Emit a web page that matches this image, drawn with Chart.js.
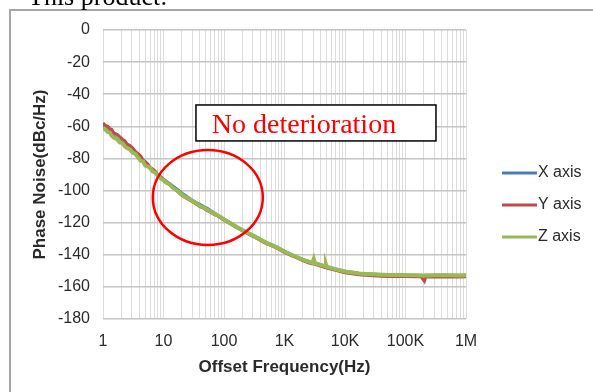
<!DOCTYPE html>
<html>
<head>
<meta charset="utf-8">
<script src="https://cdn.jsdelivr.net/npm/chart.js@4.4.1/dist/chart.umd.min.js"></script>
<style>
   html, body { margin: 0; padding: 0; background: #fff; }
   #wrap { width: 593px; height: 392px; }
</style>
</head>
<body>
<div id="wrap"><canvas id="phaseChart" width="593" height="392"></canvas></div>
<script>
/* -----------------------------------------------------------------------
   data
   ------------------------------------------------------------------------*/
const freqs = [
   1, 1.1, 1.2, 1.3, 1.4, 1.5, 1.7, 1.9, 2.1, 2.3,
   2.5, 2.8, 3.1, 3.4, 3.8, 4.2, 4.6, 5, 5.5, 6,
   6.6, 7.3, 8, 9, 10, 11, 12.5, 14, 16, 18,
   20, 23, 26, 30, 35, 40, 46, 53, 60, 70,
   80, 100, 130, 160, 200, 250, 320, 400, 500, 650,
   800, 1000, 1300, 1600, 2000, 2500, 2900, 3050, 3200, 3600,
   4200, 4700, 4850, 5000, 6000, 7500, 10000, 13000, 17000, 22000,
   30000, 40000, 55000, 75000, 100000, 140000, 180000, 205000, 215000, 230000,
   300000, 400000, 550000, 750000, 1000000
];
const xAxisNoise = [
   -59.5, -61, -62.5, -63.5, -65, -66, -67.5, -69, -70, -71.5,
   -72.5, -74, -75, -77, -78.5, -80, -81.5, -83, -84.5, -86,
   -87, -88.5, -90, -91.5, -93, -94, -95.5, -97, -98.5, -100,
   -101.5, -103, -104.5, -106, -107.5, -108.5, -110, -111, -112.5, -114,
   -115.5, -117.8, -120.3, -122.4, -124.4, -126.4, -128.4, -130.4, -132.4, -134.2,
   -135.9, -137.9, -139.9, -141.4, -142.9, -144.2, -144.9, -144.6, -145.2, -145.7,
   -146.5, -147.1, -147.2, -147.4, -148.2, -149.2, -150.3, -150.9, -151.5, -151.8,
   -152.1, -152.3, -152.5, -152.5, -152.6, -152.7, -152.8, -152.9, -152.7, -152.8,
   -152.7, -152.6, -152.7, -152.8, -152.7
];
const yAxisNoise = [
   -58, -59.5, -60, -61.5, -62, -64, -65, -66.5, -68, -69,
   -71, -72, -73.5, -75.5, -77, -78.5, -81, -82, -83.5, -85.5,
   -86.5, -88, -90, -91.5, -93, -94.5, -96, -97.5, -99.5, -101.5,
   -103, -104.5, -105.5, -107, -108.5, -110, -111, -112.5, -113.5, -115,
   -116, -118.5, -121, -123, -125, -127, -129, -131, -133, -134.8,
   -136.5, -138.5, -140.5, -142, -143.6, -145, -145.7, -145.5, -146, -146.5,
   -147.3, -148, -148.1, -148.3, -149.1, -150, -151.2, -151.8, -152.4, -152.8,
   -153.1, -153.3, -153.5, -153.4, -153.6, -153.7, -153.6, -156.5, -154, -153.8,
   -153.7, -153.8, -153.7, -153.8, -153.7
];
const zAxisNoise = [
   -61, -62, -63.5, -64, -66, -67, -68, -70, -70.5, -72.5,
   -73.5, -74.5, -76.5, -77, -79.5, -81.5, -82, -84.5, -85, -86,
   -88, -89, -90.5, -92.5, -93.5, -95, -96, -98, -99.5, -101,
   -102.5, -104, -105, -106.5, -108, -109.5, -110.5, -112, -113, -114.5,
   -115.5, -118, -120.5, -122.5, -124.5, -126.5, -128.5, -130.5, -132.5, -134.3,
   -136, -138, -140, -141.5, -143, -144.3, -145, -142.5, -145.3, -145.8,
   -146.6, -147.2, -146, -147.5, -148.3, -149.3, -150.4, -151, -151.6, -151.9,
   -152.2, -152.4, -152.6, -152.6, -152.7, -152.8, -152.9, -153, -152.8, -152.9,
   -152.8, -152.7, -152.8, -152.9, -152.8
];
const seriesNames = ["X axis", "Y axis", "Z axis"];
const seriesColors = ["#4a7ebb", "#be4b48", "#98b954"];
const xTickValues = [1, 10, 100, 1000, 10000, 100000, 1000000];
const xTickLabels = ["1", "10", "100", "1K", "10K", "100K", "1M"];
const yMin = -180, yMax = 0, yStep = 20;

// annotation anchors (in data units)
const note = {
   text: "No deterioration",
   boxFrom: [34.4, -46.7], boxTo: [319000, -69.1],
   textAt: [63, -64.3],
   ringAt: [54, -104.3], ringRx: 55, ringRy: 47.5
};

/* -----------------------------------------------------------------------
   grid lines at 1..9 of every decade
   ------------------------------------------------------------------------*/
const gridFreqs = [];
for (let d = 0; d < 6; d++) {
   for (let m = 1; m < 10; m++) gridFreqs.push(m * Math.pow(10, d));
}
gridFreqs.push(1000000);

const toPoints = function(vals) {
   return freqs.map(function(f, i) { return {x: f, y: vals[i]}; });
};

/* -----------------------------------------------------------------------
   plugin: frame, caption, legend, annotation
   ------------------------------------------------------------------------*/
const decoPlugin = {
   id: "deco",
   beforeDraw: function(chart) {
      const ctx = chart.ctx;
      ctx.save();
      ctx.fillStyle = "#fff";
      ctx.fillRect(0, 0, chart.width, chart.height);
      ctx.strokeStyle = "#a6a6a6";
      ctx.lineWidth = 2;
      ctx.strokeRect(10, 10, 800, 800);
      ctx.fillStyle = "#000";
      ctx.font = "26px 'Liberation Serif'";
      ctx.textBaseline = "alphabetic";
      ctx.fillText("This product:", 28, 5);
      ctx.restore();
   },
   afterDraw: function(chart) {
      const ctx = chart.ctx;
      const xs = chart.scales.x, ys = chart.scales.y;
      const area = chart.chartArea;
      ctx.save();
      // legend
      ctx.font = "16px 'Liberation Sans'";
      ctx.textBaseline = "middle";
      chart.data.datasets.forEach(function(ds, i) {
         const ly = 173 + i * 32;
         const lx = area.right + 36;
         ctx.strokeStyle = ds.borderColor;
         ctx.lineWidth = 3;
         ctx.beginPath();
         ctx.moveTo(lx, ly);
         ctx.lineTo(lx + 35, ly);
         ctx.stroke();
         ctx.fillStyle = "#2a2a2a";
         ctx.fillText(ds.label, lx + 36, ly);
      });
      // note box
      const bx1 = xs.getPixelForValue(note.boxFrom[0]), by1 = ys.getPixelForValue(note.boxFrom[1]);
      const bx2 = xs.getPixelForValue(note.boxTo[0]), by2 = ys.getPixelForValue(note.boxTo[1]);
      ctx.fillStyle = "#fff";
      ctx.fillRect(bx1, by1, bx2 - bx1, by2 - by1);
      ctx.strokeStyle = "#000";
      ctx.lineWidth = 1.5;
      ctx.strokeRect(bx1, by1, bx2 - bx1, by2 - by1);
      ctx.fillStyle = "#ff0000";
      ctx.font = "28px 'Liberation Serif'";
      ctx.textBaseline = "alphabetic";
      ctx.fillText(note.text, xs.getPixelForValue(note.textAt[0]), ys.getPixelForValue(note.textAt[1]));
      // ring
      ctx.strokeStyle = "#ff0000";
      ctx.lineWidth = 2.5;
      ctx.beginPath();
      ctx.ellipse(xs.getPixelForValue(note.ringAt[0]), ys.getPixelForValue(note.ringAt[1]),
                  note.ringRx, note.ringRy, 0, 0, Math.PI * 2);
      ctx.stroke();
      ctx.restore();
   }
};

/* -----------------------------------------------------------------------
   chart
   ------------------------------------------------------------------------*/
const allSeries = [xAxisNoise, yAxisNoise, zAxisNoise];
const data = {
   datasets: allSeries.map(function(vals, i) {
      return {
         label: seriesNames[i],
         data: toPoints(vals),
         borderColor: seriesColors[i],
         backgroundColor: seriesColors[i],
         borderWidth: i === 2 ? 4 : 3,
         pointRadius: 0,
         tension: 0,
         order: 2 - i,
      };
   })
};

const config = {
   type: "line",
   data: data,
   options: {
      responsive: false,
      animation: false,
      devicePixelRatio: 1,
      layout: {
         padding: { top: 30, right: 127, bottom: 14, left: 30 }
      },
      scales: {
         x: {
            type: "logarithmic",
            min: 1,
            max: 1000000,
            afterBuildTicks: function(scale) {
               scale.ticks = gridFreqs.map(function(v) { return {value: v}; });
            },
            afterFit: function(scale) { scale.height = 59; },
            grid: { color: "#dcdcdc", lineWidth: 1, drawTicks: false },
            border: { display: false },
            ticks: {
               autoSkip: false,
               maxRotation: 0,
               padding: 13,
               color: "#2a2a2a",
               font: { family: "'Liberation Sans'", size: 16 },
               callback: function(v) {
                  const i = xTickValues.indexOf(v);
                  return i >= 0 ? xTickLabels[i] : "";
               }
            },
            title: {
               display: true,
               text: "Offset Frequency(Hz)",
               color: "#2a2a2a",
               padding: 0,
               font: { family: "'Liberation Sans'", size: 17, weight: "bold" }
            }
         },
         y: {
            min: yMin,
            max: yMax,
            afterFit: function(scale) { scale.width = 73; },
            grid: { color: "#c4c4c4", lineWidth: 1.5, drawTicks: false },
            border: { display: false },
            ticks: {
               stepSize: yStep,
               padding: 13,
               color: "#2a2a2a",
               font: { family: "'Liberation Sans'", size: 16 }
            },
            title: {
               display: true,
               text: "Phase Noise(dBc/Hz)",
               color: "#2a2a2a",
               padding: 0,
               font: { family: "'Liberation Sans'", size: 17, weight: "bold" }
            }
         }
      },
      plugins: {
         legend: { display: false },
         tooltip: { enabled: false }
      }
   },
   plugins: [decoPlugin]
};

const phaseChart = new Chart(document.getElementById("phaseChart"), config);
</script>
</body>
</html>
